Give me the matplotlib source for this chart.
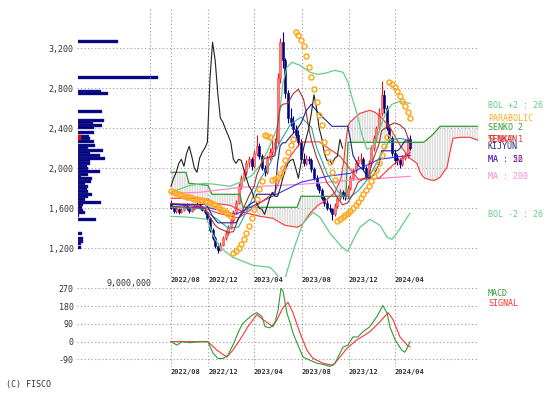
import matplotlib
matplotlib.use("Agg")
import matplotlib.pyplot as plt
import numpy as np

plt.rcParams['font.family'] = ['DejaVu Sans Mono']
plt.rcParams['hatch.color'] = '#cccccc'
plt.rcParams['hatch.linewidth'] = 0.5

# ---------------- data (weekly bars, index 0 = first week) ----------------
tick_pos = [-0.1, 14.3, 31.9, 50.4, 68.5, 86.2]
tick_labels = ['2022/08', '2022/12', '2023/04', '2023/08', '2023/12', '2024/04']
price_ticks = [1200, 1600, 2000, 2400, 2800, 3200]
macd_ticks = [-90, 0, 90, 180, 270]

opens = [1650, 1600, 1570, 1590, 1560, 1580, 1620, 1600, 1570, 1590, 1610, 1630, 1600, 1580, 1560, 1500,
         1380, 1300, 1220, 1180, 1230, 1300, 1350, 1400, 1480, 1560, 1650, 1820, 1900, 1960, 2050, 2090,
         2020, 2150, 2220, 2120, 2000, 1960, 2100, 2160, 2200, 2260, 2900, 3260, 3080, 2750, 2500, 2460,
         2390, 2330, 2260, 2090, 2050, 2090, 2080, 1990, 1900, 1820, 1780, 1700, 1650, 1600, 1590, 1540,
         1620, 1700, 1760, 1730, 1720, 1800, 1900, 1980, 2050, 2080, 2090, 2000, 1900, 2050, 2200, 2300,
         2400, 2550, 2735, 2600, 2400, 2300, 2150, 2100, 2080, 2040, 2100, 2120, 2290]
highs = [1680, 1620, 1610, 1600, 1600, 1640, 1650, 1610, 1610, 1640, 1660, 1650, 1620, 1600, 1570, 1510,
         1400, 1320, 1250, 1260, 1320, 1380, 1430, 1500, 1580, 1680, 1850, 1930, 1990, 2080, 2120, 2110,
         2180, 2330, 2250, 2140, 2030, 2130, 2200, 2320, 2300, 2950, 3300, 3360, 3100, 2780, 2600, 2520,
         2430, 2380, 2290, 2150, 2130, 2120, 2100, 2010, 1930, 1850, 1800, 1720, 1680, 1640, 1600, 1650,
         1720, 1790, 1780, 1760, 1830, 1930, 2000, 2080, 2120, 2150, 2110, 2020, 2080, 2230, 2330, 2420,
         2600, 2870, 2780, 2630, 2440, 2320, 2180, 2140, 2100, 2130, 2160, 2310, 2330]
lows = [1590, 1550, 1550, 1540, 1550, 1570, 1580, 1550, 1560, 1580, 1600, 1590, 1570, 1540, 1480, 1360,
        1280, 1200, 1150, 1170, 1220, 1280, 1330, 1390, 1460, 1540, 1640, 1790, 1870, 1930, 2010, 1980,
        2000, 2120, 2090, 1980, 1920, 1940, 2080, 2130, 2150, 2240, 2850, 3000, 2700, 2450, 2420, 2350,
        2280, 2220, 2060, 2020, 2030, 2040, 1960, 1880, 1790, 1750, 1680, 1620, 1580, 1560, 1480, 1520,
        1600, 1680, 1690, 1680, 1700, 1780, 1880, 1950, 2020, 2040, 1980, 1880, 1890, 2030, 2170, 2270,
        2380, 2520, 2550, 2380, 2260, 2120, 2040, 2030, 2000, 2020, 2080, 2100, 2180]
closes = [1600, 1570, 1590, 1560, 1580, 1620, 1600, 1570, 1590, 1610, 1630, 1600, 1580, 1560, 1500, 1380,
          1300, 1220, 1180, 1230, 1300, 1350, 1400, 1480, 1560, 1650, 1820, 1900, 1960, 2050, 2090, 2020,
          2150, 2220, 2120, 2000, 1960, 2100, 2160, 2200, 2260, 2900, 3260, 3080, 2750, 2500, 2460, 2390,
          2330, 2260, 2090, 2050, 2090, 2080, 1990, 1900, 1820, 1780, 1700, 1650, 1600, 1590, 1540, 1620,
          1700, 1760, 1720, 1720, 1800, 1900, 1980, 2050, 2080, 2090, 2000, 1900, 2050, 2200, 2300, 2400,
          2550, 2735, 2600, 2400, 2300, 2150, 2080, 2080, 2040, 2100, 2120, 2290, 2200]

parabolic = [1770, 1760, 1750, 1740, 1730, 1720, 1710, 1710, 1700, 1690, 1690, 1680, 1680, 1670, 1660, 1650,
             1640, 1630, 1610, 1590, 1580, 1560, 1540, 1520,
             1150, 1170, 1200, 1240, 1290, 1350, 1420, 1500, 1590, 1690, 1790, 1870,
             2330, 2320, 2310,
             1880, 1890, 1910, 1940, 2000, 2080, 2160, 2230, 2290,
             3360, 3330, 3280, 3220, 3120, 3010, 2910, 2790, 2660, 2530, 2430, 2260, 2160, 2060, 1960, 1880,
             1470, 1490, 1510, 1530, 1550, 1570, 1600, 1630, 1660, 1700, 1740, 1780, 1820, 1870, 1920, 1980,
             2050, 2130, 2220, 2310,
             2860, 2840, 2810, 2770, 2720, 2670, 2620, 2560, 2500]

bol_up_i = [0, 7.3, 13.1, 16.9, 22.7, 26.5, 31.2, 34.2, 36.9, 39.2, 40.8, 41.9, 43.1, 44.6, 46.5, 49.6,
            53.5, 56.2, 59.2, 63.1, 66.2, 68.1, 69.6, 71.5, 73.5, 75.4, 77.3, 79.2, 81.2, 83.1, 85, 88.1, 91.9]
bol_up_v = [1760, 1830, 1850, 1840, 1820, 1860, 1930, 2030, 2160, 2300, 2400, 2580, 2860, 3010, 3060, 3030,
            2960, 2940, 2950, 2980, 2960, 2860, 2710, 2550, 2330, 2190, 2210, 2300, 2460, 2580, 2640, 2670, 2650]
bol_dn_i = [0, 7.3, 13.8, 16.2, 18.8, 23.8, 31.5, 38.1, 40.4, 42, 43.5, 45, 47.7, 50.8, 54.6, 57.3,
            61.2, 65.8, 68.1, 70, 72.7, 76.5, 80.4, 83.1, 85, 86.9, 91.9]
bol_dn_v = [1520, 1510, 1490, 1330, 1210, 1110, 1030, 1010, 950, 880, 860, 1000, 1230, 1450, 1560, 1510,
            1350, 1210, 1170, 1280, 1410, 1490, 1430, 1310, 1290, 1350, 1550]

cloud_i = [0, 5.8, 6.9, 14.2, 15.8, 16.9, 22.7, 26.5, 27.7, 34.2, 39.2, 43.8, 48.5, 50.0, 50.8, 53.5,
           56.5, 59.6, 63.1, 65.4, 66.5, 67.3, 68.1, 68.8, 72.7, 76.5, 78.5, 81.2, 84.2, 88.1, 91.9, 94.6,
           95.8, 96.9, 97.7, 100.4, 101.5, 103.5, 106.2, 107.3, 108.5, 111.2, 115.0, 118.1]
senko2 = [1960, 1960, 1850, 1830, 1740, 1740, 1740, 1740, 1610, 1610, 1610, 1610, 1610, 1720, 1720, 1720,
          1720, 1720, 1720, 1720, 1720, 1720, 2260, 2260, 2260, 2260, 2260, 2260, 2260, 2260, 2260, 2260,
          2260, 2260, 2270, 2330, 2360, 2420, 2420, 2420, 2420, 2420, 2420, 2420]
senko1 = [1700, 1700, 1700, 1690, 1670, 1650, 1630, 1580, 1560, 1520, 1500, 1430, 1410, 1430, 1450, 1550,
          1630, 1680, 1760, 1900, 2080, 2280, 2420, 2460, 2550, 2580, 2560, 2500, 2410, 2230, 2100, 2050,
          1960, 1920, 1900, 1880, 1880, 1910, 2010, 2160, 2300, 2310, 2310, 2280]

tenkan_i = [0, 8, 13, 15, 17, 18, 22, 24, 26, 28, 30, 32, 33, 35, 36, 40, 41, 42, 43, 45, 47, 49, 51, 52,
            53, 54, 56, 58, 60, 62, 64, 66, 68, 70, 72, 76, 78, 80, 81, 84, 86, 88, 90, 91, 92]
tenkan_v = [1620, 1610, 1600, 1510, 1430, 1405, 1360, 1365, 1500, 1605, 1725, 1820, 1935, 2060, 2100, 2125,
            2435, 2610, 2640, 2650, 2745, 2790, 2690, 2560, 2400, 2280, 2110, 1985, 1855, 1790, 1705, 1635,
            1655, 1740, 1860, 1925, 2105, 2240, 2375, 2430, 2455, 2435, 2390, 2315, 2220]
kijun_i = [0, 13, 14, 16, 18, 25, 26, 28, 30, 32, 33, 40, 41, 42, 43, 44, 46, 48, 50, 52, 54, 56, 58, 60,
           62, 68, 69, 70, 72, 74, 76, 78, 80, 81, 87, 88, 90, 92]
kijun_v = [1640, 1640, 1620, 1520, 1455, 1455, 1500, 1570, 1635, 1665, 1740, 1740, 2050, 2225, 2255, 2255,
           2320, 2375, 2450, 2575, 2640, 2575, 2520, 2470, 2420, 2420, 2290, 2130, 2030, 1980, 1900, 1930,
           2040, 2175, 2175, 2195, 2275, 2275]

ma13_i = [0, 12, 18, 22, 26, 30, 34, 38, 42, 46, 50, 54, 56, 60, 64, 68, 72, 76, 80, 84, 88, 92]
ma13_v = [1610, 1595, 1486, 1402, 1413, 1613, 1878, 2042, 2265, 2442, 2511, 2412, 2208, 1949, 1774, 1692,
          1774, 1904, 2100, 2277, 2299, 2280]
ma26_i = [0, 10, 18, 26, 34, 40, 42, 44, 46, 50, 57, 65, 72, 80, 86, 92]
ma26_v = [1650, 1630, 1552, 1503, 1648, 1764, 1898, 2030, 2123, 2262, 2265, 2121, 1892, 1900, 2047, 2158]
ma52_i = [0, 14, 25, 39, 50, 60, 69, 80, 92]
ma52_v = [1640, 1610, 1540, 1720, 1860, 1920, 1950, 2090, 2130]
ma200_i = [0, 11, 27, 50, 69, 92]
ma200_v = [1750, 1760, 1810, 1840, 1880, 1920]

macd_i = [0, 2.3, 4.2, 7.3, 11, 14.2, 16.2, 18.1, 20, 21.9, 24.2, 25.8, 27.3, 29.2, 31.5, 33, 35, 36.2,
          38.1, 40, 41.2, 42.3, 43.1, 44.6, 45.8, 46.9, 48.5, 50.8, 53.5, 56.2, 58.5, 61.2, 63.1, 65,
          66.2, 68.1, 70, 71.9, 73.8, 76.5, 79.2, 81.5, 83.1, 84.2, 86.2, 88.8, 90, 91.2, 92]
macd_v = [0, -17, 0, -5, 0, 0, -58, -85, -85, -68, -7, 45, 86, 112, 137, 147, 127, 76,
          70, 96, 160, 270, 255, 145, 96, 45, -7, -78, -94, -109, -115, -125, -109, -58,
          -27, -17, 24, 24, 50, 76, 127, 183, 145, 76, 9, -43, -53, -22, 0]
signal_i = [0, 14.2, 17.7, 21.5, 23.8, 26.5, 29.6, 33, 35.4, 39.2, 40.8, 43.1, 45, 46.9, 49.6, 52.3,
            54.6, 58.5, 62.3, 65, 67.7, 71.5, 76.5, 80.4, 83.5, 85.4, 88.1, 90.8, 92]
signal_v = [0, 0, -43, -78, -43, 9, 76, 137, 112, 76, 112, 173, 199, 147, 45, -43,
            -84, -109, -120, -78, -33, 9, 50, 101, 147, 112, 24, -17, -27]

vp_price = [3270, 2910, 2770, 2750, 2570, 2480, 2460, 2430, 2410, 2360, 2320, 2300, 2270, 2230, 2210, 2180,
            2160, 2130, 2100, 2080, 2050, 2020, 2000, 1970, 1940, 1920, 1900, 1870, 1850, 1820, 1800, 1770,
            1740, 1720, 1690, 1660, 1640, 1610, 1580, 1560, 1530, 1490, 1350, 1300, 1270, 1250, 1210]
vp_volume = [5.0e6, 10.0e6, 2.9e6, 3.75e6, 3.0e6, 3.3e6, 1.9e6, 3.0e6, 2.0e6, 2.0e6, 1.4e6, 1.5e6, 2.0e6,
             2.1e6, 1.3e6, 3.1e6, 1.5e6, 2.8e6, 3.4e6, 1.5e6, 1.5e6, 1.1e6, 1.3e6, 2.8e6, 1.3e6, 0.4e6,
             1.75e6, 1.7e6, 0.9e6, 1.3e6, 1.1e6, 1.25e6, 1.75e6, 1.25e6, 0.9e6, 2.9e6, 0.7e6, 0.5e6,
             0.6e6, 0.9e6, 0.16e6, 2.25e6, 0.5e6, 0.7e6, 0.6e6, 0.4e6, 0.4e6]
vp_scale = 9000000
last_price = 2310

# ---------------- colours ----------------
C_BOL = '#66cc88'
C_PAR = '#ffaa22'
C_SEN2 = '#339933'
C_SEN1 = '#ff3333'
C_TEN = '#a33333'
C_KIJ = '#222288'
C_MA13 = '#22aaaa'
C_MA26 = '#ff3333'
C_MA52 = '#3333ff'
C_MA200 = '#ff88cc'
C_TXT = '#333333'
GRID = dict(color='#9a9a9a', linestyle=(0, (1, 2.2)), linewidth=0.8)

W, H = 556, 398


def fbox(x0, y0, x1, y1):
    return [x0 / W, 1 - y1 / H, (x1 - x0) / W, (y1 - y0) / H]


fig = plt.figure(figsize=(W / 100, H / 100), dpi=100, facecolor='white')

# ---------------- main price panel ----------------
ax = fig.add_axes(fbox(77, 7, 478, 277))
ax.set_facecolor('none')
ax.set_xlim(-36.15, 118.1)
ax.set_ylim(913, 3613)
for s in ax.spines.values():
    s.set_visible(False)
ax.set_axisbelow(True)
ax.set_yticks(price_ticks)
ax.set_yticklabels([f"{v:,}" for v in price_ticks])
ax.set_xticks(tick_pos)
ax.set_xticklabels(tick_labels, ha='left', fontweight='bold', fontsize=5, color=C_TXT)
ax.tick_params(axis='y', length=0, pad=2.5, labelsize=6, labelcolor=C_TXT)
ax.tick_params(axis='x', length=0, pad=0.3)
ax.grid(True, **GRID)

idx = np.arange(len(closes))
o = np.array(opens); h = np.array(highs); l = np.array(lows); c = np.array(closes)

# cloud
ax.fill_between(cloud_i, senko1, senko2, facecolor='none', edgecolor='#cccccc',
                hatch='|' * 10, linewidth=0, zorder=1)
ax.plot(cloud_i, senko2, color=C_SEN2, lw=0.9, zorder=3)
ax.plot(cloud_i, senko1, color=C_SEN1, lw=0.8, zorder=3)

# moving averages / bands
ax.plot(ma200_i, ma200_v, color=C_MA200, lw=0.9, zorder=3)
ax.plot(ma52_i, ma52_v, color=C_MA52, lw=0.8, zorder=3)
ax.plot(ma26_i, ma26_v, color=C_MA26, lw=0.8, zorder=3)
ax.plot(ma13_i, ma13_v, color=C_MA13, lw=0.8, zorder=3)
ax.plot(bol_up_i, bol_up_v, color=C_BOL, lw=0.9, zorder=3)
ax.plot(bol_dn_i, bol_dn_v, color=C_BOL, lw=0.9, zorder=3)

# candles
up = c >= o
dn = ~up
ax.vlines(idx[up], l[up], h[up], color='#ee1111', lw=0.8, zorder=2)
ax.bar(idx[up], c[up] - o[up], bottom=o[up], width=0.8, color='#ff8080',
       edgecolor='#ff3030', linewidth=0.4, zorder=2)
ax.vlines(idx[dn], l[dn], h[dn], color='#000080', lw=0.8, zorder=2)
ax.bar(idx[dn], o[dn] - c[dn], bottom=c[dn], width=0.8, color='#000080',
       edgecolor='#000080', linewidth=0.4, zorder=2)

# ichimoku lines
ax.plot(tenkan_i, tenkan_v, color=C_TEN, lw=0.8, zorder=3)
ax.plot(kijun_i, kijun_v, color=C_KIJ, lw=0.8, zorder=3)
# chikou span: closes shifted back 26 weeks
ax.plot(idx[:-26], c[26:], color='#222222', lw=0.8, zorder=3)

# parabolic SAR
ax.plot(idx, parabolic, ls='none', marker='o', ms=3.6, mfc='none', mec=C_PAR, mew=1.1, zorder=4)

# ---------------- volume profile ----------------
axv = fig.add_axes(fbox(77.7, 7, 478, 277))
axv.set_facecolor('none')
axv.set_xlim(0, vp_scale * (478 - 77.7) / (150 - 77.7))
axv.set_ylim(913, 3613)
axv.axis('off')
axv.barh(vp_price, vp_volume, height=26, color='#000080', edgecolor='#3a3a9a', linewidth=0.3)
axv.axvline(vp_scale, **GRID)
axv.plot([0], [last_price], marker='s', ms=2.2, color='red', ls='none')
axv.annotate(f"{vp_scale:,}", xy=(vp_scale, 0), xycoords=('data', 'axes fraction'),
             xytext=(1, -4.5), textcoords='offset points', ha='right', va='center',
             fontsize=6, color=C_TXT)

# ---------------- MACD panel ----------------
axm = fig.add_axes(fbox(77, 288, 478, 367))
axm.set_facecolor('none')
axm.set_xlim(-36.15, 118.1)
axm.set_ylim(-128, 271.5)
for s in axm.spines.values():
    s.set_visible(False)
axm.set_axisbelow(True)
axm.set_yticks(macd_ticks)
axm.set_yticklabels([str(v) for v in macd_ticks])
axm.set_xticks(tick_pos)
axm.set_xticklabels(tick_labels, ha='left', fontweight='bold', fontsize=5, color=C_TXT)
axm.tick_params(axis='y', length=0, pad=2.5, labelsize=6, labelcolor=C_TXT)
axm.tick_params(axis='x', length=0, pad=1.6)
axm.grid(True, **GRID)
axm.plot(signal_i, signal_v, color='#ff3333', lw=0.8)
axm.plot(macd_i, macd_v, color='#339933', lw=0.8)

# ---------------- legend texts (overlapping, as in the original) ----------------
legend = [
    (105, 'BOL +2 : 26', C_BOL), (118.3, 'PARABOLIC', C_PAR), (127.3, 'SENKO 2', C_SEN2),
    (139.3, 'TENKAN', C_TEN), (139.8, 'SENKO 1', C_SEN1), (146.7, 'KIJYUN', C_KIJ),
    (159, 'MA : 26', C_MA26), (159, 'MA : 52', C_MA52), (176.7, 'MA : 200', C_MA200),
    (215, 'BOL -2 : 26', C_BOL), (293.3, 'MACD', '#339933'), (303.3, 'SIGNAL', '#ff3333'),
]
for yy, txt, col in legend:
    fig.text(488 / W, 1 - yy / H, txt, color=col, fontsize=6, va='center', ha='left')

fig.text(6 / W, 1 - 384 / H, '(C) FISCO', color=C_TXT, fontsize=6, va='center', ha='left')

fig.savefig('out.png', dpi=100, facecolor='white')
